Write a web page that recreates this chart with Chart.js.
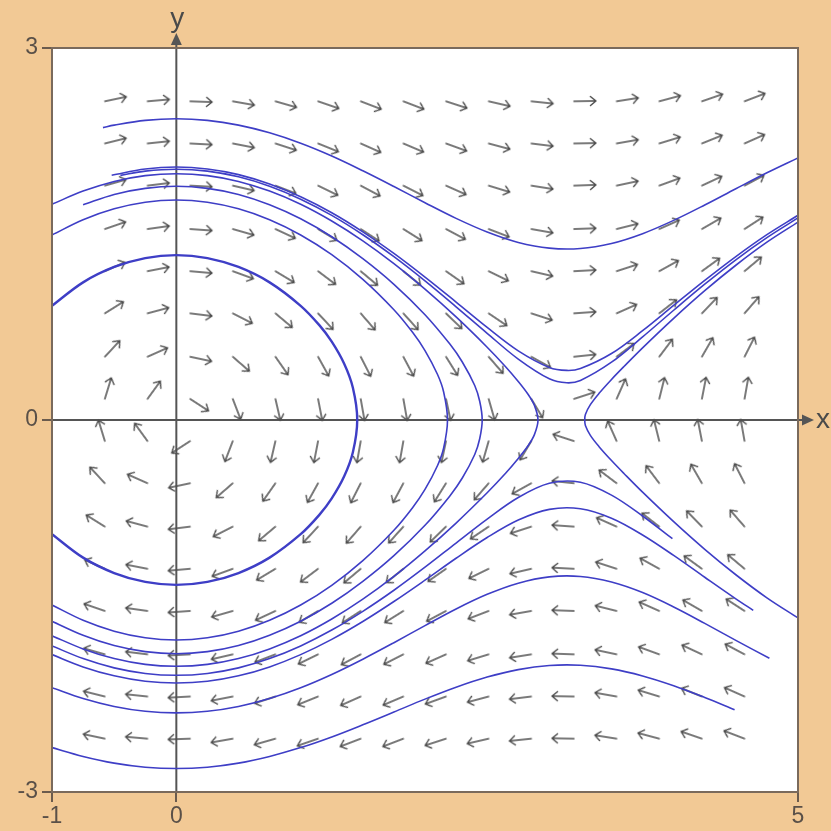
<!DOCTYPE html>
<html>
<head>
<meta charset="utf-8">
<script src="https://cdn.jsdelivr.net/npm/chart.js@4.4.1/dist/chart.umd.min.js"></script>
<style>
  html, body { margin: 0; padding: 0; background: #f2c995; }
  canvas { display: block; }
</style>
</head>
<body>
<canvas id="c" width="831" height="831"></canvas>
<script>
// axis ticks
const xTicks = [-1, 0, 5];
const yTicks = [-3, 0, 3];

// direction field grid (arrow tails)
const gridX = [-0.575, -0.232, 0.111, 0.454, 0.797, 1.14, 1.483, 1.826, 2.169, 2.512, 2.855, 3.198, 3.541, 3.884, 4.227, 4.57];
const gridY = [2.57, 2.23, 1.89, 1.54, 1.2, 0.86, 0.51, 0.17, -0.17, -0.51, -0.86, -1.2, -1.54, -1.89, -2.23, -2.57];

// arrow directions in degrees (counter-clockwise from +x), one row per gridY
const arrowAngles = [
  [12, 5, -2, -10, -16, -19, -21, -21, -18, -13, -6, 1, 9, 15, 19, 21],
  [14, 6, -3, -11, -18, -22, -24, -23, -20, -15, -7, 1, 10, 17, 22, 24],
  [16, 7, -3, -13, -21, -26, -28, -27, -24, -17, -9, 2, 12, 20, 25, 28],
  [19, 8, -4, -16, -25, -31, -33, -32, -28, -21, -10, 2, 14, 24, 30, 33],
  [24, 11, -5, -20, -31, -37, -40, -39, -35, -26, -13, 3, 18, 29, 36, 40],
  [32, 15, -7, -27, -40, -47, -49, -48, -44, -34, -18, 4, 24, 38, 46, 49],
  [47, 24, -12, -41, -55, -61, -63, -62, -58, -49, -29, 6, 37, 53, 60, 63],
  [73, 54, -33, -69, -77, -79, -80, -80, -78, -74, -59, 18, 66, 76, 79, 80],
  [107, 126, -147, -111, -103, -101, -100, -100, -102, -106, -121, 162, 114, 104, 101, 100],
  [133, 156, -168, -139, -125, -119, -117, -118, -122, -131, -151, 174, 143, 127, 120, 117],
  [148, 165, -173, -153, -140, -133, -131, -132, -136, -146, -162, 176, 156, 142, 134, 131],
  [156, 169, -175, -160, -149, -143, -140, -141, -145, -154, -167, 177, 162, 151, 144, 140],
  [161, 172, -176, -164, -155, -149, -147, -148, -152, -159, -170, 178, 166, 156, 150, 147],
  [164, 173, -177, -167, -159, -154, -152, -153, -156, -163, -171, 178, 168, 160, 155, 152],
  [166, 174, -177, -169, -162, -158, -156, -157, -160, -165, -173, 179, 170, 163, 158, 156],
  [168, 175, -178, -170, -164, -161, -159, -159, -162, -167, -174, 179, 171, 165, 161, 159]
];

// trajectories, [x, y] points
const topCurve = [[-0.59,2.358],[-0.5,2.378],[-0.25,2.416],[0,2.429],[0.25,2.416],[0.5,2.378],[0.75,2.316],[1,2.232],[1.25,2.129],[1.5,2.01],[1.75,1.883],[2,1.752],[2.25,1.626],[2.5,1.516],[2.75,1.432],[3,1.386],[3.25,1.383],[3.5,1.424],[3.75,1.503],[4,1.61],[4.25,1.734],[4.5,1.865],[4.75,1.994],[5,2.114]];

const passHigh = [[-0.52,1.974],[-0.25,2.024],[0,2.04],[0.25,2.024],[0.5,1.979],[0.75,1.903],[1,1.8],[1.25,1.671],[1.5,1.517],[1.75,1.343],[2,1.152],[2.25,0.951],[2.5,0.747],[2.75,0.558],[3,0.424],[3.14,0.4],[3.25,0.415],[3.5,0.536],[3.75,0.72],[4,0.924],[4.25,1.126],[4.5,1.318],[4.75,1.495],[5,1.651]];

const passLow = [[-0.45,1.973],[-0.25,2.007],[0,2.022],[0.25,2.007],[0.5,1.961],[0.75,1.885],[1,1.781],[1.25,1.65],[1.5,1.494],[1.75,1.317],[2,1.122],[2.25,0.913],[2.5,0.699],[2.75,0.491],[3,0.332],[3.14,0.3],[3.25,0.319],[3.5,0.466],[3.75,0.67],[4,0.885],[4.25,1.095],[4.5,1.292],[4.75,1.471],[5,1.63]];

const rightLoop = [[5,-1.596],[4.75,-1.434],[4.5,-1.248],[4.25,-1.043],[4,-0.82],[3.75,-0.582],[3.6,-0.431],[3.5,-0.327],[3.4,-0.215],[3.33,-0.124],[3.29,-0.045],[3.285,0],[3.29,0.045],[3.33,0.124],[3.4,0.215],[3.5,0.327],[3.6,0.431],[3.75,0.582],[4,0.82],[4.25,1.043],[4.5,1.248],[4.75,1.434],[5,1.596]];

const loopOuter = [[-1,1.74],[-0.75,1.846],[-0.5,1.924],[-0.25,1.971],[0,1.986],[0.25,1.971],[0.5,1.924],[0.75,1.846],[1,1.74],[1.25,1.605],[1.5,1.445],[1.75,1.261],[2,1.055],[2.25,0.831],[2.5,0.587],[2.65,0.428],[2.75,0.311],[2.83,0.206],[2.88,0.118],[2.909,0],[2.88,-0.118],[2.83,-0.206],[2.75,-0.311],[2.65,-0.428],[2.5,-0.587],[2.25,-0.831],[2,-1.055],[1.75,-1.261],[1.5,-1.445],[1.25,-1.605],[1,-1.74],[0.75,-1.846],[0.5,-1.924],[0.25,-1.971],[0,-1.986],[-0.25,-1.971],[-0.5,-1.924],[-0.75,-1.846],[-1,-1.74]];

const loopMiddle = [[-0.75,1.736],[-0.5,1.819],[-0.25,1.868],[0,1.885],[0.25,1.868],[0.5,1.819],[0.75,1.736],[1,1.623],[1.25,1.478],[1.5,1.301],[1.75,1.094],[2,0.849],[2.2,0.612],[2.3,0.468],[2.4,0.278],[2.44,0.151],[2.46,0],[2.44,-0.151],[2.4,-0.278],[2.3,-0.468],[2.2,-0.612],[2,-0.849],[1.75,-1.094],[1.5,-1.301],[1.25,-1.478],[1,-1.623],[0.75,-1.736],[0.5,-1.819],[0.25,-1.868],[0,-1.885],[-0.25,-1.868],[-0.5,-1.819],[-0.75,-1.736],[-1,-1.623]];

const loopInner = [[-1,1.492],[-0.75,1.615],[-0.5,1.703],[-0.25,1.756],[0,1.774],[0.25,1.756],[0.5,1.703],[0.75,1.615],[1,1.492],[1.25,1.333],[1.5,1.134],[1.75,0.889],[1.9,0.707],[2,0.56],[2.1,0.369],[2.15,0.226],[2.181,0],[2.15,-0.226],[2.1,-0.369],[2,-0.56],[1.9,-0.707],[1.75,-0.889],[1.5,-1.134],[1.25,-1.333],[1,-1.492],[0.75,-1.615],[0.5,-1.703],[0.25,-1.756],[0,-1.774],[-0.25,-1.756],[-0.5,-1.703],[-0.75,-1.615],[-1,-1.492]];

const centerLoop = [[-1,0.921],[-0.75,1.11],[-0.5,1.234],[-0.25,1.306],[0,1.33],[0.25,1.306],[0.5,1.234],[0.75,1.11],[1,0.921],[1.15,0.765],[1.25,0.632],[1.35,0.454],[1.42,0.26],[1.455,0],[1.42,-0.26],[1.35,-0.454],[1.25,-0.632],[1.15,-0.765],[1,-0.921],[0.75,-1.11],[0.5,-1.234],[0.25,-1.306],[0,-1.33],[-0.25,-1.306],[-0.5,-1.234],[-0.75,-1.11],[-1,-0.921]];

const underHigh = [[-1,-1.822],[-0.75,-1.924],[-0.5,-1.999],[-0.25,-2.044],[0,-2.059],[0.25,-2.044],[0.5,-1.999],[0.75,-1.924],[1,-1.822],[1.25,-1.694],[1.5,-1.543],[1.75,-1.373],[2,-1.187],[2.25,-0.992],[2.5,-0.799],[2.75,-0.625],[3,-0.51],[3.25,-0.502],[3.5,-0.606],[3.75,-0.774],[3.99,-0.957]];

const underMid = [[-1,-1.892],[-0.75,-1.991],[-0.5,-2.063],[-0.25,-2.107],[0,-2.121],[0.25,-2.107],[0.5,-2.063],[0.75,-1.991],[1,-1.892],[1.25,-1.769],[1.5,-1.625],[1.75,-1.464],[2,-1.292],[2.25,-1.115],[2.5,-0.948],[2.75,-0.807],[3,-0.721],[3.25,-0.716],[3.5,-0.792],[3.75,-0.927],[4,-1.092],[4.25,-1.268],[4.5,-1.442],[4.64,-1.535]];

const underLow = [[-1,-2.159],[-0.75,-2.246],[-0.5,-2.31],[-0.25,-2.349],[0,-2.362],[0.25,-2.349],[0.5,-2.31],[0.75,-2.246],[1,-2.159],[1.25,-2.052],[1.5,-1.929],[1.75,-1.796],[2,-1.658],[2.25,-1.524],[2.5,-1.406],[2.75,-1.316],[3,-1.265],[3.25,-1.262],[3.5,-1.307],[3.75,-1.392],[4,-1.508],[4.25,-1.64],[4.5,-1.777],[4.77,-1.922]];

const bottomCurve = [[-1,-2.642],[-0.75,-2.713],[-0.5,-2.767],[-0.25,-2.8],[0,-2.811],[0.25,-2.8],[0.5,-2.767],[0.75,-2.713],[1,-2.642],[1.25,-2.556],[1.5,-2.458],[1.75,-2.355],[2,-2.251],[2.25,-2.155],[2.5,-2.073],[2.75,-2.013],[3,-1.98],[3.25,-1.978],[3.5,-2.007],[3.75,-2.064],[4,-2.143],[4.25,-2.238],[4.49,-2.336]];

const curves = [topCurve, passHigh, passLow, rightLoop, loopOuter, loopMiddle, loopInner,
  centerLoop, underHigh, underMid, underLow, bottomCurve];

const BLUE = '#3e3ec6';
const GREY = '#4f4f4f';

function arrowImage() {
  const c = document.createElement('canvas');
  c.width = 60; c.height = 60;
  const g = c.getContext('2d');
  g.strokeStyle = GREY;
  g.lineWidth = 1.5;
  g.lineCap = 'round';
  g.lineJoin = 'round';
  g.beginPath();
  g.moveTo(30, 30); g.lineTo(52, 30);
  g.moveTo(46.5, 25.5); g.lineTo(52, 30); g.lineTo(46.5, 34.5);
  g.stroke();
  return c;
}

const arrowPts = [];
const arrowRot = [];
gridY.forEach((y, j) => {
  gridX.forEach((x, i) => {
    arrowPts.push({ x: x, y: y });
    arrowRot.push(-arrowAngles[j][i]);
  });
});

const datasets = curves.map(pts => ({
  data: pts.map(p => ({ x: p[0], y: p[1] })),
  showLine: true,
  borderColor: BLUE,
  borderWidth: pts === centerLoop ? 2.4 : 1.6,
  pointRadius: 0,
  tension: 0.35,
  fill: false
}));

datasets.push({
  data: arrowPts,
  showLine: false,
  pointStyle: arrowImage(),
  pointRotation: arrowRot,
  pointRadius: 10
});

const framePlugin = {
  id: 'framePlugin',
  beforeDraw(chart) {
    const { ctx, chartArea: a } = chart;
    ctx.save();
    ctx.fillStyle = '#f2c995';
    ctx.fillRect(0, 0, chart.width, chart.height);
    ctx.fillStyle = '#ffffff';
    ctx.fillRect(a.left, a.top, a.right - a.left, a.bottom - a.top);
    ctx.restore();
  },
  beforeDatasetsDraw(chart) {
    const { ctx, chartArea: a, scales } = chart;
    const x0 = scales.x.getPixelForValue(0);
    const y0 = scales.y.getPixelForValue(0);
    ctx.save();
    ctx.strokeStyle = '#555';
    ctx.fillStyle = '#555';
    ctx.lineWidth = 2;
    ctx.beginPath();
    ctx.moveTo(a.left, y0); ctx.lineTo(806, y0);
    ctx.moveTo(x0, a.bottom); ctx.lineTo(x0, 42);
    ctx.stroke();
    ctx.beginPath();
    ctx.moveTo(814, y0); ctx.lineTo(802, y0 - 5.5); ctx.lineTo(802, y0 + 5.5); ctx.closePath();
    ctx.fill();
    ctx.beginPath();
    ctx.moveTo(x0, 33); ctx.lineTo(x0 - 5.5, 45); ctx.lineTo(x0 + 5.5, 45); ctx.closePath();
    ctx.fill();
    ctx.font = '28px "Liberation Sans", Arial, sans-serif';
    ctx.fillStyle = '#4a4a4a';
    ctx.textAlign = 'center';
    ctx.textBaseline = 'alphabetic';
    ctx.fillText('y', x0 + 1, 27);
    ctx.textAlign = 'left';
    ctx.fillText('x', 816, y0 + 8);
    ctx.restore();
  },
  afterDatasetsDraw(chart) {
    const { ctx, chartArea: a } = chart;
    ctx.save();
    ctx.strokeStyle = '#7a6a5c';
    ctx.lineWidth = 2;
    ctx.strokeRect(a.left, a.top, a.right - a.left, a.bottom - a.top);
    ctx.restore();
  }
};

const tickFont = { family: '"Liberation Sans", Arial, sans-serif', size: 23 };

new Chart(document.getElementById('c'), {
  type: 'scatter',
  data: { datasets: datasets },
  options: {
    responsive: false,
    animation: false,
    devicePixelRatio: 1,
    layout: { padding: { left: 0, top: 48, right: 33, bottom: 0 } },
    plugins: { legend: { display: false }, tooltip: { enabled: false } },
    events: [],
    scales: {
      x: {
        type: 'linear', min: -1, max: 5,
        afterBuildTicks: s => { s.ticks = xTicks.map(v => ({ value: v })); },
        afterFit: s => { s.height = 39; },
        grid: { display: true, drawOnChartArea: false, drawTicks: true, tickLength: 10, color: '#6b5b4d', lineWidth: 2 },
        border: { display: false },
        ticks: { font: tickFont, color: '#5a5048', padding: 1, maxRotation: 0 }
      },
      y: {
        type: 'linear', min: -3, max: 3,
        afterBuildTicks: s => { s.ticks = yTicks.map(v => ({ value: v })); },
        afterFit: s => { s.width = 52; },
        grid: { display: true, drawOnChartArea: false, drawTicks: true, tickLength: 10, color: '#6b5b4d', lineWidth: 2 },
        border: { display: false },
        ticks: { font: tickFont, color: '#5a5048', padding: 4 }
      }
    }
  },
  plugins: [framePlugin]
});
</script>
</body>
</html>
